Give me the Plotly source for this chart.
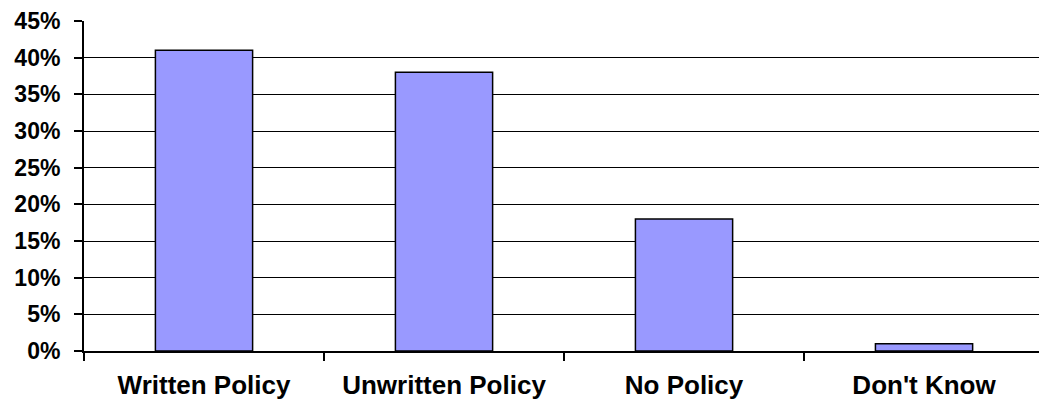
import plotly.graph_objects as go

# Survey responses: share of organisations by policy status
categories = ["Written Policy", "Unwritten Policy", "No Policy", "Don't Know"]
shares = [0.41, 0.38, 0.18, 0.01]
y_tick_values = [0, 0.05, 0.10, 0.15, 0.20, 0.25, 0.30, 0.35, 0.40, 0.45]

fig = go.Figure(
    go.Bar(
        x=categories,
        y=shares,
        marker=dict(color="#9999FF", line=dict(color="black", width=1.5)),
        width=0.405,
        hoverinfo="x+y",
    )
)

fig.update_layout(
    width=1039,
    height=402,
    margin=dict(l=84, r=0, t=21, b=51),
    paper_bgcolor="white",
    plot_bgcolor="white",
    showlegend=False,
    font=dict(family="Liberation Sans, Arial, sans-serif", color="black"),
)

fig.update_xaxes(
    type="category",
    range=[-0.5, 3.479],
    automargin=False,
    showline=True,
    linecolor="black",
    linewidth=2,
    ticks="outside",
    tickson="boundaries",
    ticklen=8,
    tickwidth=2,
    tickcolor="black",
    showgrid=False,
    tickfont=dict(size=26, family="Liberation Sans, Arial, sans-serif", weight="bold"),
    ticklabelstandoff=10,
)

fig.update_yaxes(
    range=[0, 0.45],
    tickvals=y_tick_values,
    tickformat=".0%",
    automargin=False,
    showline=True,
    linecolor="black",
    linewidth=2,
    ticks="outside",
    ticklen=8,
    tickwidth=2,
    tickcolor="black",
    showgrid=True,
    gridcolor="black",
    gridwidth=1,
    zeroline=False,
    tickfont=dict(size=23, family="Liberation Sans, Arial, sans-serif", weight="bold"),
    ticklabelstandoff=9,
)

fig.write_html("out.html")
